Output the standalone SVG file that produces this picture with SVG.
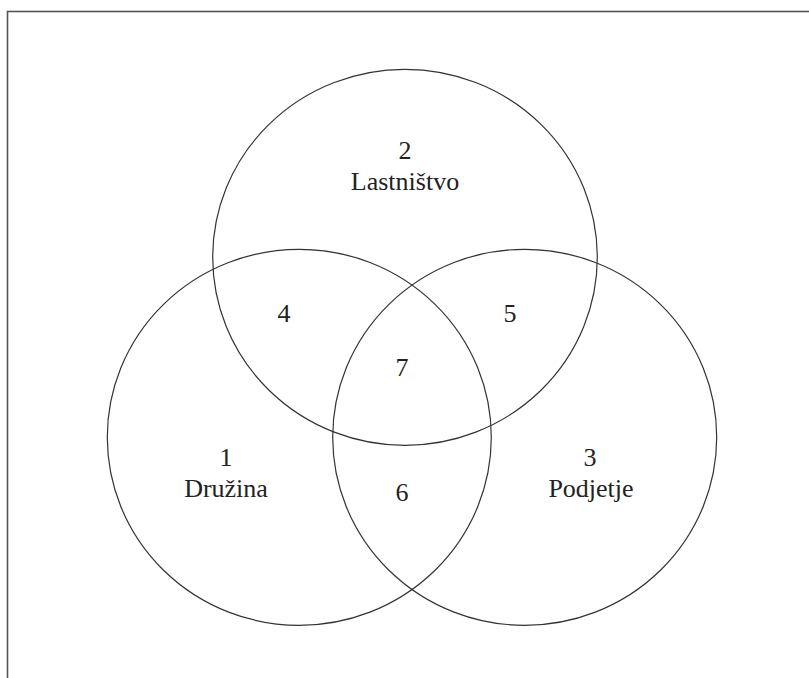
<svg xmlns="http://www.w3.org/2000/svg" width="809" height="678" viewBox="0 0 809 678">
<style>
.c{fill:none;stroke:#333;stroke-width:1.2}
.t{font-family:"Liberation Serif","Times New Roman",serif;font-size:26px;fill:#222;text-anchor:middle}
</style>
<rect width="809" height="678" fill="#fff"/>
<rect x="7.5" y="11.5" width="830" height="700" fill="none" stroke="#555" stroke-width="1.6"/>
<g id="set-lastnistvo">
<ellipse class="c" cx="405" cy="257.3" rx="192.3" ry="188"/>
<text class="t" x="405" y="159">2</text>
<text class="t" x="405" y="190">Lastništvo</text>
</g>
<g id="set-druzina">
<ellipse class="c" cx="299.3" cy="437.3" rx="192" ry="188"/>
<text class="t" x="226" y="466">1</text>
<text class="t" x="226" y="497">Družina</text>
</g>
<g id="set-podjetje">
<ellipse class="c" cx="524.7" cy="437.3" rx="192" ry="188"/>
<text class="t" x="590" y="466">3</text>
<text class="t" x="591" y="497">Podjetje</text>
</g>
<g id="region-4"><text class="t" x="284" y="322">4</text></g>
<g id="region-5"><text class="t" x="510" y="322">5</text></g>
<g id="region-7"><text class="t" x="402" y="376">7</text></g>
<g id="region-6"><text class="t" x="402" y="501">6</text></g>
<g id="connectors"></g>
</svg>
